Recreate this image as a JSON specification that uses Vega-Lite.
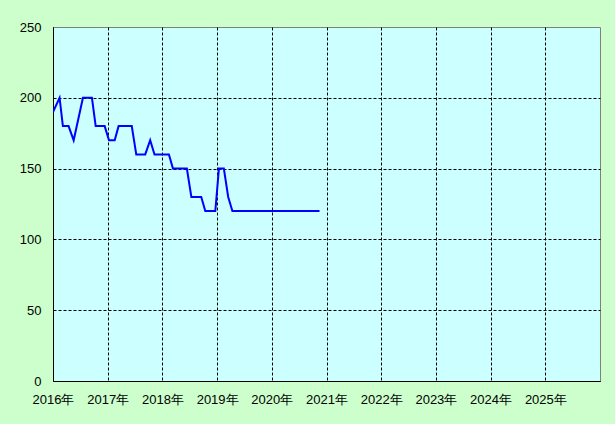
{
  "$schema": "https://vega.github.io/schema/vega-lite/v6.json",
  "width": 547,
  "height": 354,
  "autosize": {"type": "none"},
  "padding": {"left": 53, "top": 27, "right": 15, "bottom": 43},
  "background": "#CCFFCC",
  "config": {
    "view": {"fill": "#CCFFFF", "stroke": "#808080", "strokeWidth": 1},
    "axis": {
      "labelFont": "Liberation Sans",
      "labelFontSize": 13,
      "labelColor": "#000000",
      "domainColor": "#000000",
      "domainWidth": 1,
      "gridColor": "#000000",
      "gridDash": [3, 2],
      "gridWidth": 1,
      "ticks": false,
      "title": null
    }
  },
  "data": {
    "values": [
      {"date": "2016-01-01", "value": 190},
      {"date": "2016-02-14", "value": 200},
      {"date": "2016-03-07", "value": 180},
      {"date": "2016-04-14", "value": 180},
      {"date": "2016-05-18", "value": 170},
      {"date": "2016-07-19", "value": 200},
      {"date": "2016-09-17", "value": 200},
      {"date": "2016-10-12", "value": 180},
      {"date": "2016-12-11", "value": 180},
      {"date": "2017-01-09", "value": 170},
      {"date": "2017-02-16", "value": 170},
      {"date": "2017-03-14", "value": 180},
      {"date": "2017-06-10", "value": 180},
      {"date": "2017-07-10", "value": 160},
      {"date": "2017-09-08", "value": 160},
      {"date": "2017-10-11", "value": 170},
      {"date": "2017-11-09", "value": 160},
      {"date": "2018-02-13", "value": 160},
      {"date": "2018-03-12", "value": 150},
      {"date": "2018-06-13", "value": 150},
      {"date": "2018-07-13", "value": 130},
      {"date": "2018-09-17", "value": 130},
      {"date": "2018-10-14", "value": 120},
      {"date": "2018-12-20", "value": 120},
      {"date": "2019-01-13", "value": 150},
      {"date": "2019-02-15", "value": 150},
      {"date": "2019-03-16", "value": 130},
      {"date": "2019-04-13", "value": 120},
      {"date": "2020-11-15", "value": 120}
    ]
  },
  "mark": {"type": "line", "color": "#0000FF", "strokeWidth": 2, "strokeJoin": "miter", "clip": true},
  "encoding": {
    "x": {
      "field": "date",
      "type": "temporal",
      "scale": {
        "type": "utc",
        "domain": [
          {"year": 2016, "month": 1, "date": 1, "utc": true},
          {"year": 2026, "month": 1, "date": 1, "utc": true}
        ],
        "nice": false
      },
      "axis": {
        "values": [
          {"year": 2016, "month": 1, "date": 1, "utc": true},
          {"year": 2017, "month": 1, "date": 1, "utc": true},
          {"year": 2018, "month": 1, "date": 1, "utc": true},
          {"year": 2019, "month": 1, "date": 1, "utc": true},
          {"year": 2020, "month": 1, "date": 1, "utc": true},
          {"year": 2021, "month": 1, "date": 1, "utc": true},
          {"year": 2022, "month": 1, "date": 1, "utc": true},
          {"year": 2023, "month": 1, "date": 1, "utc": true},
          {"year": 2024, "month": 1, "date": 1, "utc": true},
          {"year": 2025, "month": 1, "date": 1, "utc": true}
        ],
        "format": "%Y年",
        "labelPadding": 12,
        "labelAlign": "center",
        "labelFlush": false,
        "labelOverlap": false
      }
    },
    "y": {
      "field": "value",
      "type": "quantitative",
      "scale": {"domain": [0, 250], "nice": false},
      "axis": {
        "values": [0, 50, 100, 150, 200, 250],
        "labelPadding": 12,
        "labelFlush": false,
        "gridOpacity": {"condition": {"test": "datum.value == 250", "value": 0}, "value": 1}
      }
    }
  }
}
